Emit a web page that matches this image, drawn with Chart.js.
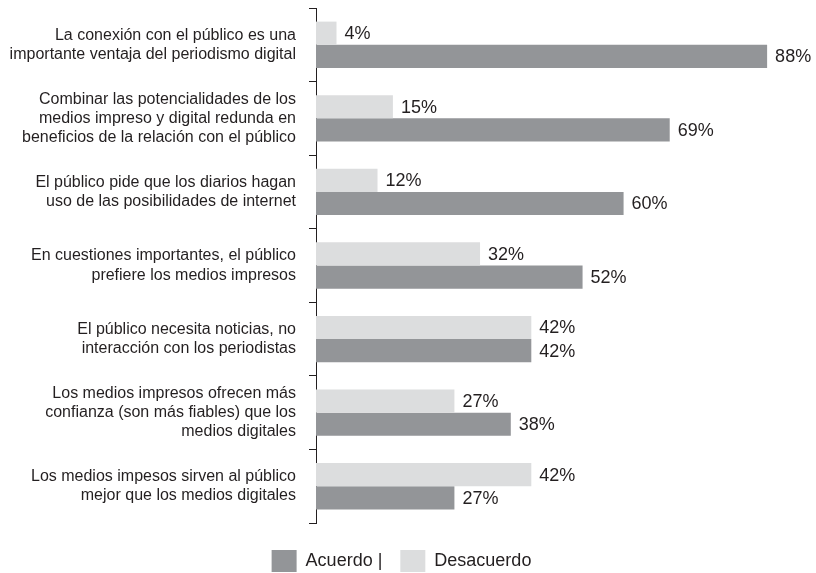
<!DOCTYPE html>
<html>
<head>
<meta charset="utf-8">
<script src="https://cdn.jsdelivr.net/npm/chart.js@4.4.1/dist/chart.umd.min.js"></script>
<style>
  html, body { margin: 0; padding: 0; background: #fff; }
  #wrap { width: 816px; height: 573px; }
</style>
</head>
<body>
<div id="wrap"><canvas id="chart1"></canvas></div>
<script>
const categories = [
  ['La conexión con el público es una', 'importante ventaja del periodismo digital'],
  ['Combinar las potencialidades de los', 'medios impreso y digital redunda en', 'beneficios de la relación con el público'],
  ['El público pide que los diarios hagan', 'uso de las posibilidades de internet'],
  ['En cuestiones importantes, el público', 'prefiere los medios impresos'],
  ['El público necesita noticias, no', 'interacción con los periodistas'],
  ['Los medios impresos ofrecen más', 'confianza (son más fiables) que los', 'medios digitales'],
  ['Los medios impesos sirven al público', 'mejor que los medios digitales'],
];
const acuerdo = [88, 69, 60, 52, 42, 38, 27];
const desacuerdo = [4, 15, 12, 32, 42, 27, 42];

const fontFamily = '"Liberation Sans", Arial, Helvetica, sans-serif';
const textColor = '#231f20';

// etiquetas de porcentaje al final de cada barra
const valueLabels = {
  id: 'valueLabels',
  afterDatasetsDraw(chart) {
    const c = chart.ctx;
    c.save();
    c.font = '18px ' + fontFamily;
    c.fillStyle = textColor;
    c.textAlign = 'left';
    c.textBaseline = 'middle';
    chart.data.datasets.forEach((ds, i) => {
      chart.getDatasetMeta(i).data.forEach((bar, j) => {
        c.fillText(ds.data[j] + '%', bar.x + 8, bar.y + 1);
      });
    });
    c.restore();
  },
};

const ctx = document.getElementById('chart1').getContext('2d');
const myChart = new Chart(ctx, {
  type: 'bar',
  data: {
    labels: categories,
    datasets: [
      {
        label: 'Desacuerdo',
        data: desacuerdo,
        backgroundColor: '#dcddde',
        borderWidth: 0,
      },
      {
        label: 'Acuerdo |',
        data: acuerdo,
        backgroundColor: '#939598',
        borderWidth: 0,
      },
    ],
  },
  options: {
    indexAxis: 'y',
    responsive: true,
    maintainAspectRatio: false,
    animation: false,
    categoryPercentage: 0.63,
    barPercentage: 1,
    layout: { padding: { top: 8, right: 13, left: 0, bottom: -9 } },
    scales: {
      x: {
        display: false,
        min: 0,
        max: 95,
      },
      y: {
        afterFit(scale) {
          scale.width = 316;
          scale.paddingTop = 0;
          scale.paddingBottom = 0;
        },
        border: { display: true, color: '#231f20', width: 1 },
        grid: {
          offset: true,
          drawOnChartArea: false,
          drawTicks: true,
          tickLength: 7,
          color: '#231f20',
        },
        ticks: {
          padding: 13,
          color: textColor,
          font: { family: fontFamily, size: 16, lineHeight: 1.2 },
        },
      },
    },
    plugins: {
      legend: {
        position: 'bottom',
        reverse: true,
        title: { display: true, text: '', padding: 0, font: { size: 9, lineHeight: 1 } },
        labels: {
          boxWidth: 25,
          boxHeight: 22,
          padding: 18,
          color: textColor,
          font: { family: fontFamily, size: 18 },
        },
      },
      tooltip: { enabled: false },
    },
  },
  plugins: [valueLabels],
});
</script>
</body>
</html>
